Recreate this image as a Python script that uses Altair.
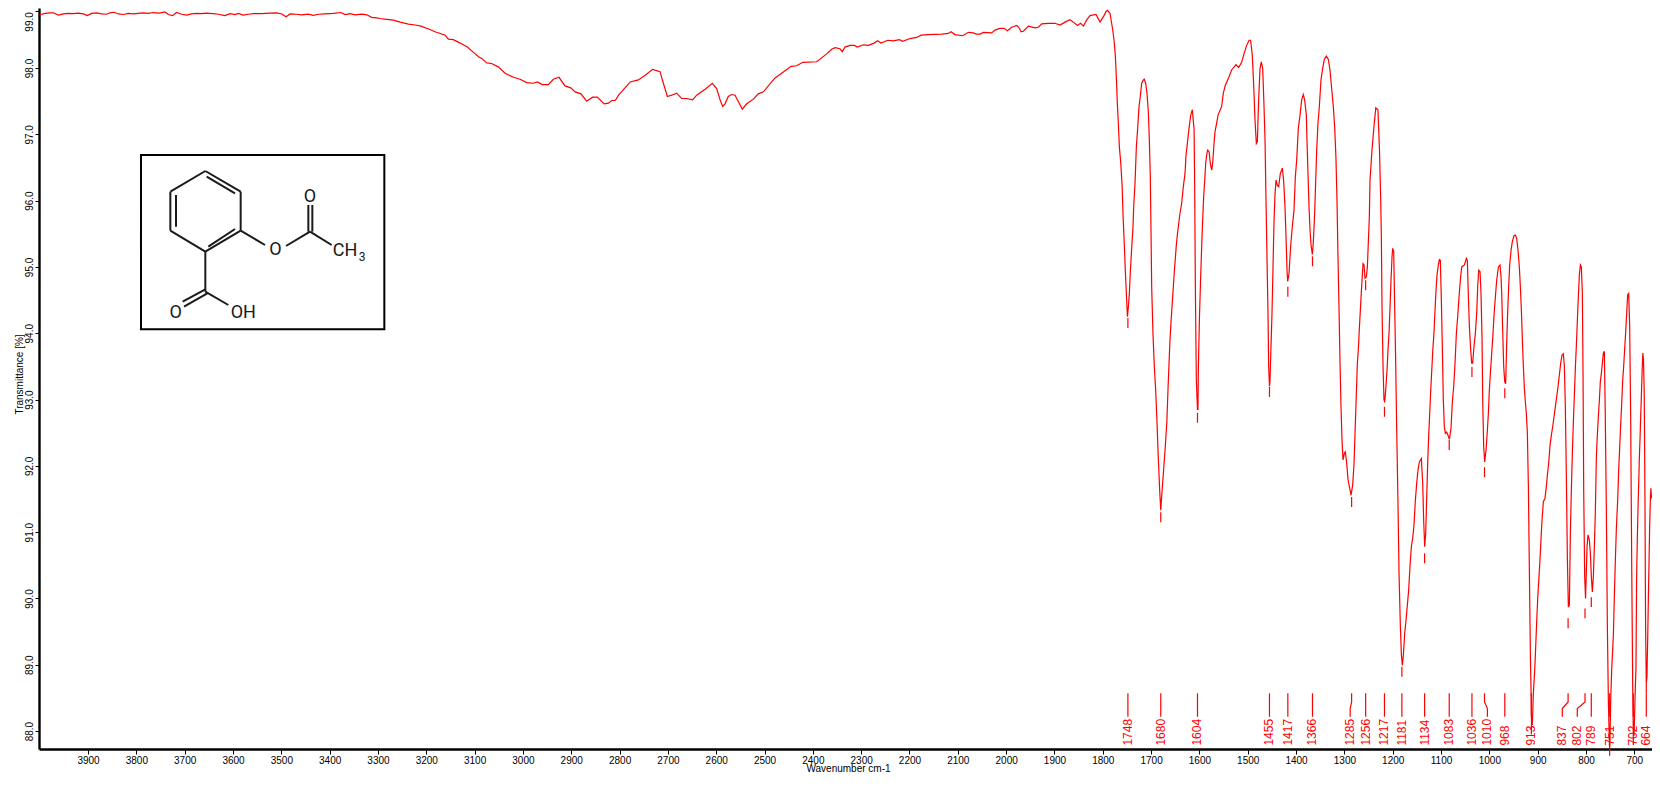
import altair as alt
import pandas as pd

# Trace readings: (wavenumber cm-1, transmittance %)
trace_baseline = [(3999.4,98.94),(3989,98.965),(3979,98.975),(3972,98.975),(3961.5,98.935),(3951,98.955),(3941,98.965),(3930.4,98.96),(3920,98.97),(3910,98.955),(3901.5,98.925),(3892.5,98.965),(3882,98.975),(3872,98.955),(3861.5,98.95),(3854.5,98.975),(3846,98.985),(3837,98.955),(3827,98.945),(3817,98.965),(3806,98.955),(3796,98.965),(3786,98.975),(3775,98.965),(3765,98.98),(3752.5,98.97),(3741,98.99),(3734,98.945),(3725,98.925),(3717,98.98),(3706,98.95),(3696,98.935),(3686,98.955),(3675,98.965),(3665,98.96),(3655,98.97),(3641,98.96),(3630,98.95),(3617,98.925),(3606,98.96),(3596,98.945),(3589,98.965),(3579,98.935),(3568,98.95),(3558,98.96),(3541,98.96),(3523,98.97),(3510,98.975),(3499,98.955),(3490,98.905),(3482,98.955),(3468,98.95),(3458,98.94),(3444,98.95),(3434,98.93),(3423,98.95),(3410,98.955),(3392,98.965),(3377,98.98),(3368,98.945),(3358,98.96),(3347,98.94),(3334,98.95),(3323,98.94),(3313,98.895),(3303,98.885)]
trace_shoulder = [(3296,98.875),(3282,98.86),(3268,98.845),(3254,98.81),(3237,98.775),(3223,98.76),(3213,98.745),(3192.3,98.68),(3182,98.64),(3161,98.58),(3154.4,98.51),(3144,98.50),(3130,98.44),(3115,98.37),(3103,98.28),(3092,98.20),(3085.4,98.17),(3075,98.09),(3065,98.08),(3051,98.02),(3037,97.92),(3020,97.86),(3006,97.83),(2992,97.78),(2978.5,97.77),(2970,97.79),(2960,97.75),(2947.4,97.75),(2937,97.83),(2925.4,97.86),(2913,97.73),(2901,97.70),(2892,97.64),(2880,97.61),(2868,97.50),(2855.7,97.56),(2846,97.56),(2832,97.46),(2823,97.47),(2816,97.51),(2809,97.51),(2802,97.59),(2778,97.79),(2761,97.82),(2747,97.89),(2731.5,97.98),(2716.3,97.945),(2709.4,97.77),(2701,97.57),(2692.2,97.59),(2682,97.62),(2671.5,97.54),(2661,97.54),(2648.7,97.52),(2640.5,97.59),(2623,97.68),(2608,97.77),(2599,97.69)]
trace_rise = [(2592,97.52),(2586.6,97.42),(2581.8,97.46),(2575,97.57),(2568,97.60),(2561,97.59),(2554,97.49),(2546,97.38),(2537,97.46),(2523,97.53),(2513,97.61),(2502.4,97.64),(2478.3,97.85),(2461,97.94),(2445,98.03),(2433.4,98.04),(2421,98.10),(2392,98.11),(2371.4,98.25),(2361,98.33),(2354,98.36),(2343.8,98.34),(2339,98.29),(2333.4,98.37),(2323,98.40),(2314,98.40),(2308,98.37),(2295.5,98.41),(2285,98.40),(2273.4,98.44),(2266,98.48),(2259,98.44),(2245,98.49),(2233.4,98.48),(2221,98.50),(2214,98.47),(2199,98.52),(2185,98.54),(2176,98.58),(2161,98.59),(2133.4,98.60),(2119.6,98.61),(2114,98.64),(2106,98.59),(2090,98.57),(2078,98.63),(2068,98.62),(2062,98.60),(2054,98.60),(2047,98.63),(2030,98.62),(2023,98.67),(2013,98.70),(2004.4,98.70),(1997.5,98.66),(1988.5,98.72),(1978,98.75),(1973.3,98.71),(1969,98.64),(1964.4,98.65),(1954,98.74),(1940.2,98.71),(1933.3,98.72),(1926.4,98.78),(1912.6,98.79),(1899,98.79)]
trace_carbonyl = [(1888.5,98.76),(1878,98.81),(1868,98.855),(1861,98.81),(1852.6,98.75),(1846,98.79),(1840,98.74),(1833.3,98.85),(1826.4,98.925),(1814,98.945),(1805.7,98.81),(1797.4,98.925),(1793.3,99.00),(1790,99.02),(1785,98.965),(1779.5,98.68),(1776.8,98.50),(1774,98.22),(1772,97.87),(1769.9,97.47),(1767.8,97.17),(1765.7,96.81),(1763,96.59),(1760,96.23),(1758.2,95.81),(1755.4,95.33),(1753.3,94.93),(1751.2,94.60),(1749,94.25),(1747,94.40),(1745,94.60),(1743,94.93),(1740.2,95.28),(1737.4,95.61),(1736,95.91),(1733.3,96.26),(1730.5,96.81),(1727.8,97.09),(1725,97.42),(1722.3,97.57),(1719.5,97.77),(1716,97.82),(1714,97.83),(1711.2,97.77),(1708.5,97.62),(1705.7,97.34),(1703.6,96.91),(1701.6,96.36),(1700.2,95.56),(1698.8,94.70),(1696,93.97),(1693.3,93.49),(1690.5,93.14),(1688,92.7),(1685,92.1),(1682,91.6),(1680,91.33),(1678,91.55),(1675,91.85),(1671,92.25),(1667.5,92.65),(1664.3,93.29),(1660.9,93.9),(1658.8,94.17),(1656,94.48),(1654,94.70),(1651.9,94.93),(1649.8,95.13),(1647.8,95.33),(1645.7,95.48),(1643.6,95.61),(1640.2,95.81),(1636.7,95.96),(1633.3,96.21),(1629.8,96.41),(1627.7,96.69),(1625,96.86),(1621.5,97.09),(1618,97.29),(1614.6,97.37),(1611,97.07),(1609.8,96.21),(1608.4,94.70),(1606.4,93.29),(1604,92.85),(1603,92.85),(1602.2,93.47),(1600,94.22),(1597.4,94.85),(1595.3,95.31),(1593.3,95.71),(1591.2,96.06),(1589,96.31),(1587,96.56),(1585,96.69),(1583,96.76),(1580,96.74),(1577.4,96.56),(1574.6,96.46),(1572.6,96.56),(1569.8,96.86),(1567.7,97.04),(1564.3,97.17),(1561.5,97.29),(1554,97.42),(1550.5,97.62),(1546.4,97.74),(1540.2,97.84),(1533.3,97.97),(1524.3,98.06),(1518.8,98.01),(1512.6,98.10),(1507.7,98.25),(1502.2,98.40),(1497.4,98.49),(1494,98.49),(1490.5,98.22),(1487,97.62),(1485,97.22),(1482.2,96.86),(1480.1,96.89),(1477.4,97.52),(1474.6,97.99),(1471.9,98.11),(1469,97.99),(1466.3,97.42),(1464.2,96.91),(1462.2,96.01),(1460.1,95.13),(1458,94.27),(1456.7,93.49),(1455,93.2),(1454,93.27),(1452.5,93.64),(1449.8,94.30),(1447.7,95.0),(1445.7,95.66),(1443.6,96.09),(1441.5,96.31),(1438.7,96.23),(1436,96.21),(1432.5,96.41),(1428.4,96.49),(1425.6,96.29),(1422.9,95.91),(1420.8,95.46),(1418.7,94.95),(1417.3,94.78),(1414.6,94.90),(1411,95.33),(1407.7,95.61),(1404.2,95.86),(1401.5,96.36),(1398.7,96.61),(1395.3,97.09),(1391.8,97.29),(1388.4,97.52),(1385,97.60),(1382.2,97.52),(1378.7,97.29),(1377.4,96.91),(1375.3,96.41),(1373.2,95.91),(1371.1,95.56),(1369,95.33),(1366.3,95.19),(1364.2,95.38),(1361.5,95.81),(1359.4,96.29),(1357.3,96.76),(1354.6,97.17),(1351.8,97.42),(1348.4,97.82),(1345,97.99),(1341.5,98.15),(1337.4,98.21),(1333.2,98.15),(1329.8,97.97),(1326.3,97.69),(1322.9,97.42),(1320.1,97.11),(1317.5,96.66),(1315.2,95.98),(1313.2,95.15),(1311,94.33)]
trace_fingerprint_a = [(1309,93.55),(1307,92.89),(1304.9,92.39),(1302.8,92.09),(1300,92.19),(1298,92.21),(1295.2,92.04),(1292.4,91.79),(1289.7,91.69),(1286.2,91.56),(1282.8,91.71),(1280,92.04),(1278,92.49),(1275.9,92.94),(1273.1,93.55),(1271,93.77),(1269,94.07),(1266.2,94.45),(1263.5,94.80),(1261.4,95.05),(1259.3,95.03),(1257.3,94.83),(1254.5,94.85),(1252.4,95.0),(1250.4,95.38),(1248.3,95.76),(1247,96.3),(1243,96.75),(1239,97.1),(1235,97.4),(1230.5,97.37),(1227.3,96.75),(1224.8,96.01),(1223.5,95.46),(1222.1,94.4),(1220,93.5),(1218,92.99),(1216.6,92.97),(1214.5,93.14),(1211.7,93.45),(1209.7,93.75),(1207.6,94.0),(1205.5,94.4),(1203.5,94.8),(1201.4,95.15),(1200,95.28),(1197.9,95.23),(1195.9,94.4),(1193.8,93.55),(1191.7,92.54),(1189,91.41),(1186.9,90.38),(1184.1,89.57),(1182,89.15),(1180,88.99),(1177.9,89.15),(1175.2,89.47),(1172.4,89.67),(1169.7,89.90),(1166.9,90.13),(1164.1,90.5),(1161.4,90.78),(1158.6,90.91),(1155.9,91.11),(1153.1,91.48),(1150.3,91.74),(1147.6,91.94),(1144.8,92.06),(1140.7,92.11),(1137.9,91.74),(1135.9,91.18),(1133.8,90.78),(1131.7,90.98),(1129.6,91.53),(1127.6,92.04),(1125.5,92.46),(1123.4,92.79),(1121.4,93.12),(1119.3,93.42),(1117.2,93.72),(1114.5,94.02),(1112.4,94.35),(1110.3,94.65),(1108.3,94.88),(1105.5,95.03),(1103.4,95.11),(1101.4,95.10),(1099.3,94.50),(1097.2,93.75),(1095.2,92.99),(1093.1,92.59),(1091,92.49),(1088.3,92.51),(1085.5,92.46),(1082.7,92.40),(1079.3,92.57),(1076.5,92.97),(1073.8,93.19),(1071,93.55),(1068.2,94.0),(1065.5,94.25),(1062.7,94.55),(1060,94.80),(1057.2,95.0),(1051.7,95.03),(1047.5,95.13),(1045.5,95.10),(1043.4,94.55),(1041.3,94.10),(1038.6,93.75),(1036.5,93.55),(1034.5,93.55),(1031.7,93.80),(1028.9,94.0),(1026.2,94.30),(1024.1,94.70),(1022,94.95),(1019.3,94.93),(1017.2,94.60),(1015.1,93.90),(1013.7,92.99),(1011.7,92.29),(1009.6,92.06)]
trace_fingerprint_b = [(1006.8,92.24),(1004,92.54),(1002,92.79),(1000,93.14),(997.9,93.39),(995.1,93.70),(993,93.92),(990.3,94.27),(987.5,94.55),(984.8,94.80),(981.3,95.0),(977.9,95.03),(975.8,94.85),(974.4,94.60),(972.4,94.05),(970.3,93.50),(968.2,93.27),(966.2,93.24),(964.1,93.85),(962,94.33),(960,94.70),(957.9,95.03),(955.1,95.25),(952.4,95.38),(949,95.47),(946.1,95.48),(943.4,95.43),(940.6,95.25),(937.9,95.0),(935.8,94.70),(933.7,94.35),(931.7,93.92),(929.6,93.50),(927.5,93.17),(925.5,92.97),(923.4,92.79),(921.3,92.49),(919.2,91.69),(917.2,90.45),(915.1,89.17),(913.6,88.57),(912.6,88.1),(911,88.1),(908.9,88.57),(906.1,88.92),(904.1,89.27),(902,89.65),(899.9,90.0),(897.2,90.33),(895.1,90.6),(893,90.91),(891,91.18),(888.2,91.46),(884.8,91.51),(882,91.69),(880,91.85),(877.2,92.04),(874.4,92.31),(871.7,92.46),(868.9,92.59),(866.1,92.74),(863.4,92.89),(860.6,93.04),(857.9,93.19),(855.1,93.37),(852.3,93.55),(849.6,93.67),(846.8,93.69),(844.7,93.50),(842.7,92.89),(840.6,91.84),(838.5,90.60),(836.5,89.87),(834.4,89.90),(832.3,90.98),(830.3,91.63),(828.2,92.19),(826.1,92.67),(824,93.07),(822,93.47),(819.9,93.82),(817.8,94.2),(815.8,94.55),(813.7,94.88),(811.6,95.03),(809.6,95.0),(807.5,94.60),(806.1,93.39),(804.7,91.63),(802.7,90.33),(800.9,90.0),(797.8,90.78),(795.8,90.96),(793,90.88),(790.9,90.68),(788.9,90.33),(786.8,90.10),(784.7,90.33),(782.7,90.78),(780.6,91.31),(778.5,92.14),(776.5,92.46),(774.4,92.74),(772.3,92.99),(770.3,93.27),(768.2,93.39),(766.1,93.55),(764,93.70),(762,93.73),(760,92.74),(757.8,91.33),(755.8,89.62),(753.7,88.47),(751.5,87.78),(750.5,87.78),(748.8,88.47),(746.8,88.92),(743.3,89.45),(741.3,90.03),(739.2,90.58),(737.1,91.06),(734.4,91.48),(732.3,91.94),(730.2,92.29),(728.2,92.62),(726.1,92.94),(724,93.29),(722,93.50),(719.9,93.77),(717.8,94.02),(715.8,94.30),(713.7,94.58),(711.6,94.60),(709.6,94.12),(707.5,92.74),(705.4,90.55),(703.3,88.67),(702,87.94),(700.5,87.94),(697.1,88.62),(695,88.95),(693,90.33),(690.9,90.91),(688.8,91.36),(686.8,91.73),(684.7,92.14),(682.6,92.44),(680.6,92.77),(678.5,93.09),(676.4,93.44),(674.4,93.70),(672.3,93.60),(670.2,93.09),(668.1,91.63),(666.1,89.60),(664,88.72),(662,88.82),(659.9,89.35),(657.8,89.97),(655.8,90.53),(653.7,91.11),(651.6,91.51),(650.2,91.66),(648.2,91.51),(647,91.53)]

# Peak table
peak_labels = ["1748","1680","1604","1455","1417","1366","1285","1256","1217","1181","1134","1083","1036","1010","968","913","837","802","789","751","702","664"]
peak_wn = [1748,1680,1604,1455,1417,1366,1285,1256,1217,1181,1134,1083,1036,1010,968,913,837,802,789,751,702,664]
label_wn = [1748,1680,1604,1455,1417,1366,1288,1256,1217,1181,1134,1083,1036,1004,968,913,849,818,789,751,702,664]
peak_t = [94.23,91.30,92.80,93.19,94.70,95.16,91.53,94.80,92.89,88.97,90.68,92.39,93.49,91.98,93.17,88.10,89.70,89.85,90.02,87.78,87.94,88.72]
leader_levels = [88.569, 88.44, 88.34, 88.216]
label_level = 87.804
dash_length = 0.15

x_ticks = list(range(3900, 600, -100))
y_ticks = list(range(88, 100))

# Structure drawing, in its own drawing units
ring = [(616,513,722,575),(722,575,722,692),(722,692,616,755),(616,755,511,692),(511,692,511,575),(511,575,616,513)]
inner = [(620,530,705,580),(528,585,528,680),(705,687,625,740)]
bonds = [(722,692,795,735),(858,738,930,695),(925,695,925,615),(937,695,937,615),(930,695,995,735),(616,755,616,875),(616,875,685,915),(616,868,548,905),(622,880,552,920)]
atoms = [("O",826,750,18),("O",930,590,18),("CH",1035,752,18),("3",1086,770,12),("O",527,938,18),("OH",730,938,18)]
box = [(423,465,1153,988)]

pts = trace_baseline + trace_shoulder + trace_rise + trace_carbonyl + trace_fingerprint_a + trace_fingerprint_b
trace = pd.DataFrame(pts, columns=["wn", "t"])
peaks = pd.DataFrame({"label": peak_labels, "wn": peak_wn, "lab_wn": label_wn, "t": peak_t})
peaks["t2"] = peaks["t"] - dash_length
peaks["lab_t"] = label_level
leaders = pd.DataFrame(
    [{"label": l, "wn": w, "t": leader_levels[0], "o": 0} for l, w in zip(peak_labels, peak_wn)]
    + [{"label": l, "wn": w, "t": leader_levels[1], "o": 1} for l, w in zip(peak_labels, peak_wn)]
    + [{"label": l, "wn": w, "t": leader_levels[2], "o": 2} for l, w in zip(peak_labels, label_wn)]
    + [{"label": l, "wn": w, "t": leader_levels[3], "o": 3} for l, w in zip(peak_labels, label_wn)]
)
segs = pd.DataFrame(ring + inner + bonds, columns=["a", "b", "a2", "b2"])
boxdf = pd.DataFrame(box, columns=["a", "b", "a2", "b2"])
atomdf = pd.DataFrame(atoms, columns=["s", "a", "b", "size"])

W, H = 1613, 741
FONT = "Liberation Sans"
xs = alt.Scale(domain=[4001.5, 700, 646.8], range=[0, 1595.3, W], nice=False, zero=False)
ys = alt.Scale(domain=[87.73, 98.0, 99.06], range=[H, 60, 0], nice=False, zero=False)
ms_x = alt.Scale(domain=[0, 1200], range=[-39, 361], nice=False)
ms_y = alt.Scale(domain=[0, 990], range=[-8, 322], nice=False)

x_axis = alt.Axis(values=x_ticks, format="d", title="Wavenumber cm-1", grid=False, domainWidth=2.4, domainColor="black",
                  tickColor="black", tickSize=5, tickWidth=1, labelFont=FONT, labelFontSize=10, labelColor="black",
                  labelPadding=1, labelOverlap=False, labelFlush=False, titleFont=FONT, titleFontSize=10,
                  titleFontWeight="normal", titleColor="black", titlePadding=-2, titleX=809)
y_axis = alt.Axis(values=y_ticks, format=".1f", title="Transmittance [%]", grid=False, domainWidth=2.4, domainColor="black",
                  tickColor="black", tickSize=4, tickWidth=1, labelFont=FONT, labelFontSize=10, labelColor="black",
                  labelAngle=270, labelAlign="center", labelBaseline="middle", labelPadding=6, labelOverlap=False,
                  labelFlush=False, labelOffset=alt.expr("datum.value > 98.5 ? 10 : 0"),
                  titleFont=FONT, titleFontSize=10, titleFontWeight="normal", titleColor="black", titlePadding=0, titleY=366)

line = alt.Chart(trace).mark_line(color="#ff0000", strokeWidth=1.2, interpolate="linear").encode(
    x=alt.X("wn:Q", scale=xs, axis=x_axis), y=alt.Y("t:Q", scale=ys, axis=y_axis))
leader = alt.Chart(leaders).mark_line(color="#ff0000", strokeWidth=1.2).encode(
    x=alt.X("wn:Q", scale=xs, axis=None), y=alt.Y("t:Q", scale=ys, axis=None), detail="label:N", order="o:Q")
dash = alt.Chart(peaks).mark_rule(color="#ff0000", strokeWidth=1.2).encode(
    x=alt.X("wn:Q", scale=xs, axis=None), y=alt.Y("t:Q", scale=ys, axis=None), y2="t2:Q")
labels = alt.Chart(peaks).mark_text(color="#ff0000", font=FONT, fontSize=12, angle=270, align="left", baseline="middle", dx=-1.5).encode(
    x=alt.X("lab_wn:Q", scale=xs, axis=None), y=alt.Y("lab_t:Q", scale=ys, axis=None), text="label:N")

mbox = alt.Chart(boxdf).mark_rect(fill="white", stroke="black", strokeWidth=2).encode(
    x=alt.X("a:Q", scale=ms_x, axis=None), x2="a2:Q", y=alt.Y("b:Q", scale=ms_y, axis=None), y2="b2:Q")
mseg = alt.Chart(segs).mark_rule(color="#1a1a1a", strokeWidth=2).encode(
    x=alt.X("a:Q", scale=ms_x, axis=None), x2="a2:Q", y=alt.Y("b:Q", scale=ms_y, axis=None), y2="b2:Q")
matom = alt.Chart(atomdf).mark_text(color="#1a1a1a", font="Roboto", align="center", baseline="middle").encode(
    x=alt.X("a:Q", scale=ms_x, axis=None), y=alt.Y("b:Q", scale=ms_y, axis=None), text="s:N",
    size=alt.Size("size:Q", scale=None, legend=None))

chart = alt.layer(line, leader, dash, labels, mbox, mseg, matom).resolve_scale(x="independent", y="independent").properties(
    width=W, height=H, padding={"left": 31, "top": 0, "right": 0, "bottom": 30},
    autosize=alt.AutoSizeParams(type="none"), background="white",
).configure_view(stroke=None)

chart.save("out.html", embed_options={"renderer": "svg", "actions": False})
